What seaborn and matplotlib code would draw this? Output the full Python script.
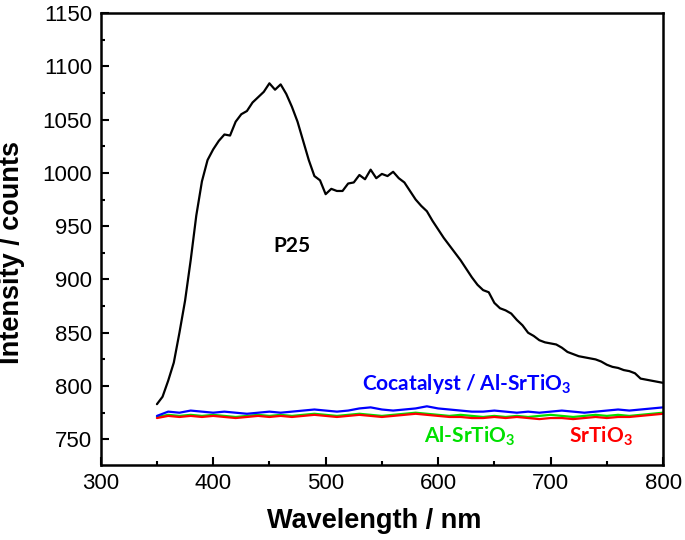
import numpy as np
import pandas as pd
import matplotlib
matplotlib.use("Agg")
import matplotlib.pyplot as plt
import seaborn as sns
from matplotlib.ticker import MultipleLocator

# P25 spectrum, every 5 nm
wl_p25 = list(range(350, 805, 5))
p25 = [783, 790, 805, 822, 850, 880, 918, 960, 992, 1012,
       1022, 1030, 1036, 1035, 1048, 1055, 1058, 1066, 1071, 1076,
       1084, 1078, 1083, 1074, 1062, 1048, 1030, 1012, 997, 993,
       980, 985, 983, 983, 990, 991, 998, 994, 1003, 995,
       999, 997, 1001, 995, 991, 983, 975, 969, 964, 955,
       947, 939, 932, 925, 918, 910, 902, 895, 890, 888,
       878, 873, 871, 868, 862, 857, 850, 847, 843, 841,
       840, 839, 836, 832, 830, 828, 827, 826, 825, 823,
       820, 818, 817, 815, 814, 812, 807, 806, 805, 804, 803]

# flat samples, every 10 nm
wl_flat = list(range(350, 810, 10))
cocat = [772, 776, 775, 777, 776, 775, 776, 775, 774, 775,
         776, 775, 776, 777, 778, 777, 776, 777, 779, 780,
         778, 777, 778, 779, 781, 779, 778, 777, 776, 776,
         777, 776, 775, 776, 775, 776, 777, 776, 775, 776,
         777, 778, 777, 778, 779, 780]
al_srtio3 = [771, 773, 772, 773, 772, 773, 772, 771, 772, 773,
             772, 773, 772, 773, 774, 773, 772, 773, 774, 773,
             772, 773, 774, 775, 774, 773, 772, 773, 772, 771,
             772, 771, 772, 771, 772, 773, 772, 771, 772, 773,
             772, 773, 772, 773, 774, 775]
srtio3 = [770, 772, 771, 772, 771, 772, 771, 770, 771, 772,
          771, 772, 771, 772, 773, 772, 771, 772, 773, 772,
          771, 772, 773, 774, 773, 772, 771, 771, 770, 770,
          771, 770, 771, 770, 769, 770, 770, 769, 770, 771,
          770, 771, 771, 772, 773, 774]

sns.set_style("ticks")
plt.rcParams['font.family'] = ['Liberation Sans', 'DejaVu Sans']
plt.rcParams['mathtext.fontset'] = 'custom'
plt.rcParams['mathtext.bf'] = 'Lato:bold'
plt.rcParams['mathtext.rm'] = 'Lato:bold'

fig = plt.figure(figsize=(6.85, 5.4), dpi=100)
ax = fig.add_axes([0.147, 0.139, 0.821, 0.837])

df_p25 = pd.DataFrame({"wl": wl_p25, "val": p25})
df_flat = pd.DataFrame({"wl": wl_flat, "cocat": cocat, "al": al_srtio3, "sr": srtio3})

sns.lineplot(data=df_p25, x="wl", y="val", ax=ax, color="black", lw=1.6)
sns.lineplot(data=df_flat, x="wl", y="al", ax=ax, color="#00e000", lw=1.6)
sns.lineplot(data=df_flat, x="wl", y="sr", ax=ax, color="#ff0000", lw=1.6)
sns.lineplot(data=df_flat, x="wl", y="cocat", ax=ax, color="#0000ff", lw=1.6)

ax.set_xlim(300, 800)
ax.set_ylim(726, 1150)
ax.xaxis.set_major_locator(MultipleLocator(100))
ax.xaxis.set_minor_locator(MultipleLocator(50))
ax.yaxis.set_major_locator(MultipleLocator(50))
ax.yaxis.set_minor_locator(MultipleLocator(25))
ax.tick_params(which="both", direction="in", top=False, right=False,
               labelsize=16, width=1.5, pad=6, color="black", labelcolor="black")
ax.tick_params(which="major", length=6)
ax.tick_params(which="minor", length=3)
for s in ax.spines.values():
    s.set_visible(True)
    s.set_linewidth(1.8)
    s.set_color("black")

ax.set_xlabel("Wavelength / nm", fontsize=19.5, fontweight="bold", color="black")
ax.set_ylabel("Intensity / counts", fontsize=19.5, fontweight="bold", color="black")
ax.xaxis.set_label_coords(0.486, -0.124)
ax.yaxis.set_label_coords(-0.157, 0.471)
ax.xaxis.label.set_va("center")
ax.yaxis.label.set_va("center")

lab = dict(fontsize=15, fontweight="bold", family=["Lato", "DejaVu Sans"], ha="center", va="center")
ax.text(470, 931, "P25", color="black", **lab)
ax.text(625, 802, "Cocatalyst / Al-SrTiO$_\\mathbf{3}$", color="#0000ff", **lab)
ax.text(628, 753, "Al-SrTiO$_\\mathbf{3}$", color="#00e000", **lab)
ax.text(745, 753, "SrTiO$_\\mathbf{3}$", color="#ff0000", **lab)

plt.savefig("out.png", dpi=100)
